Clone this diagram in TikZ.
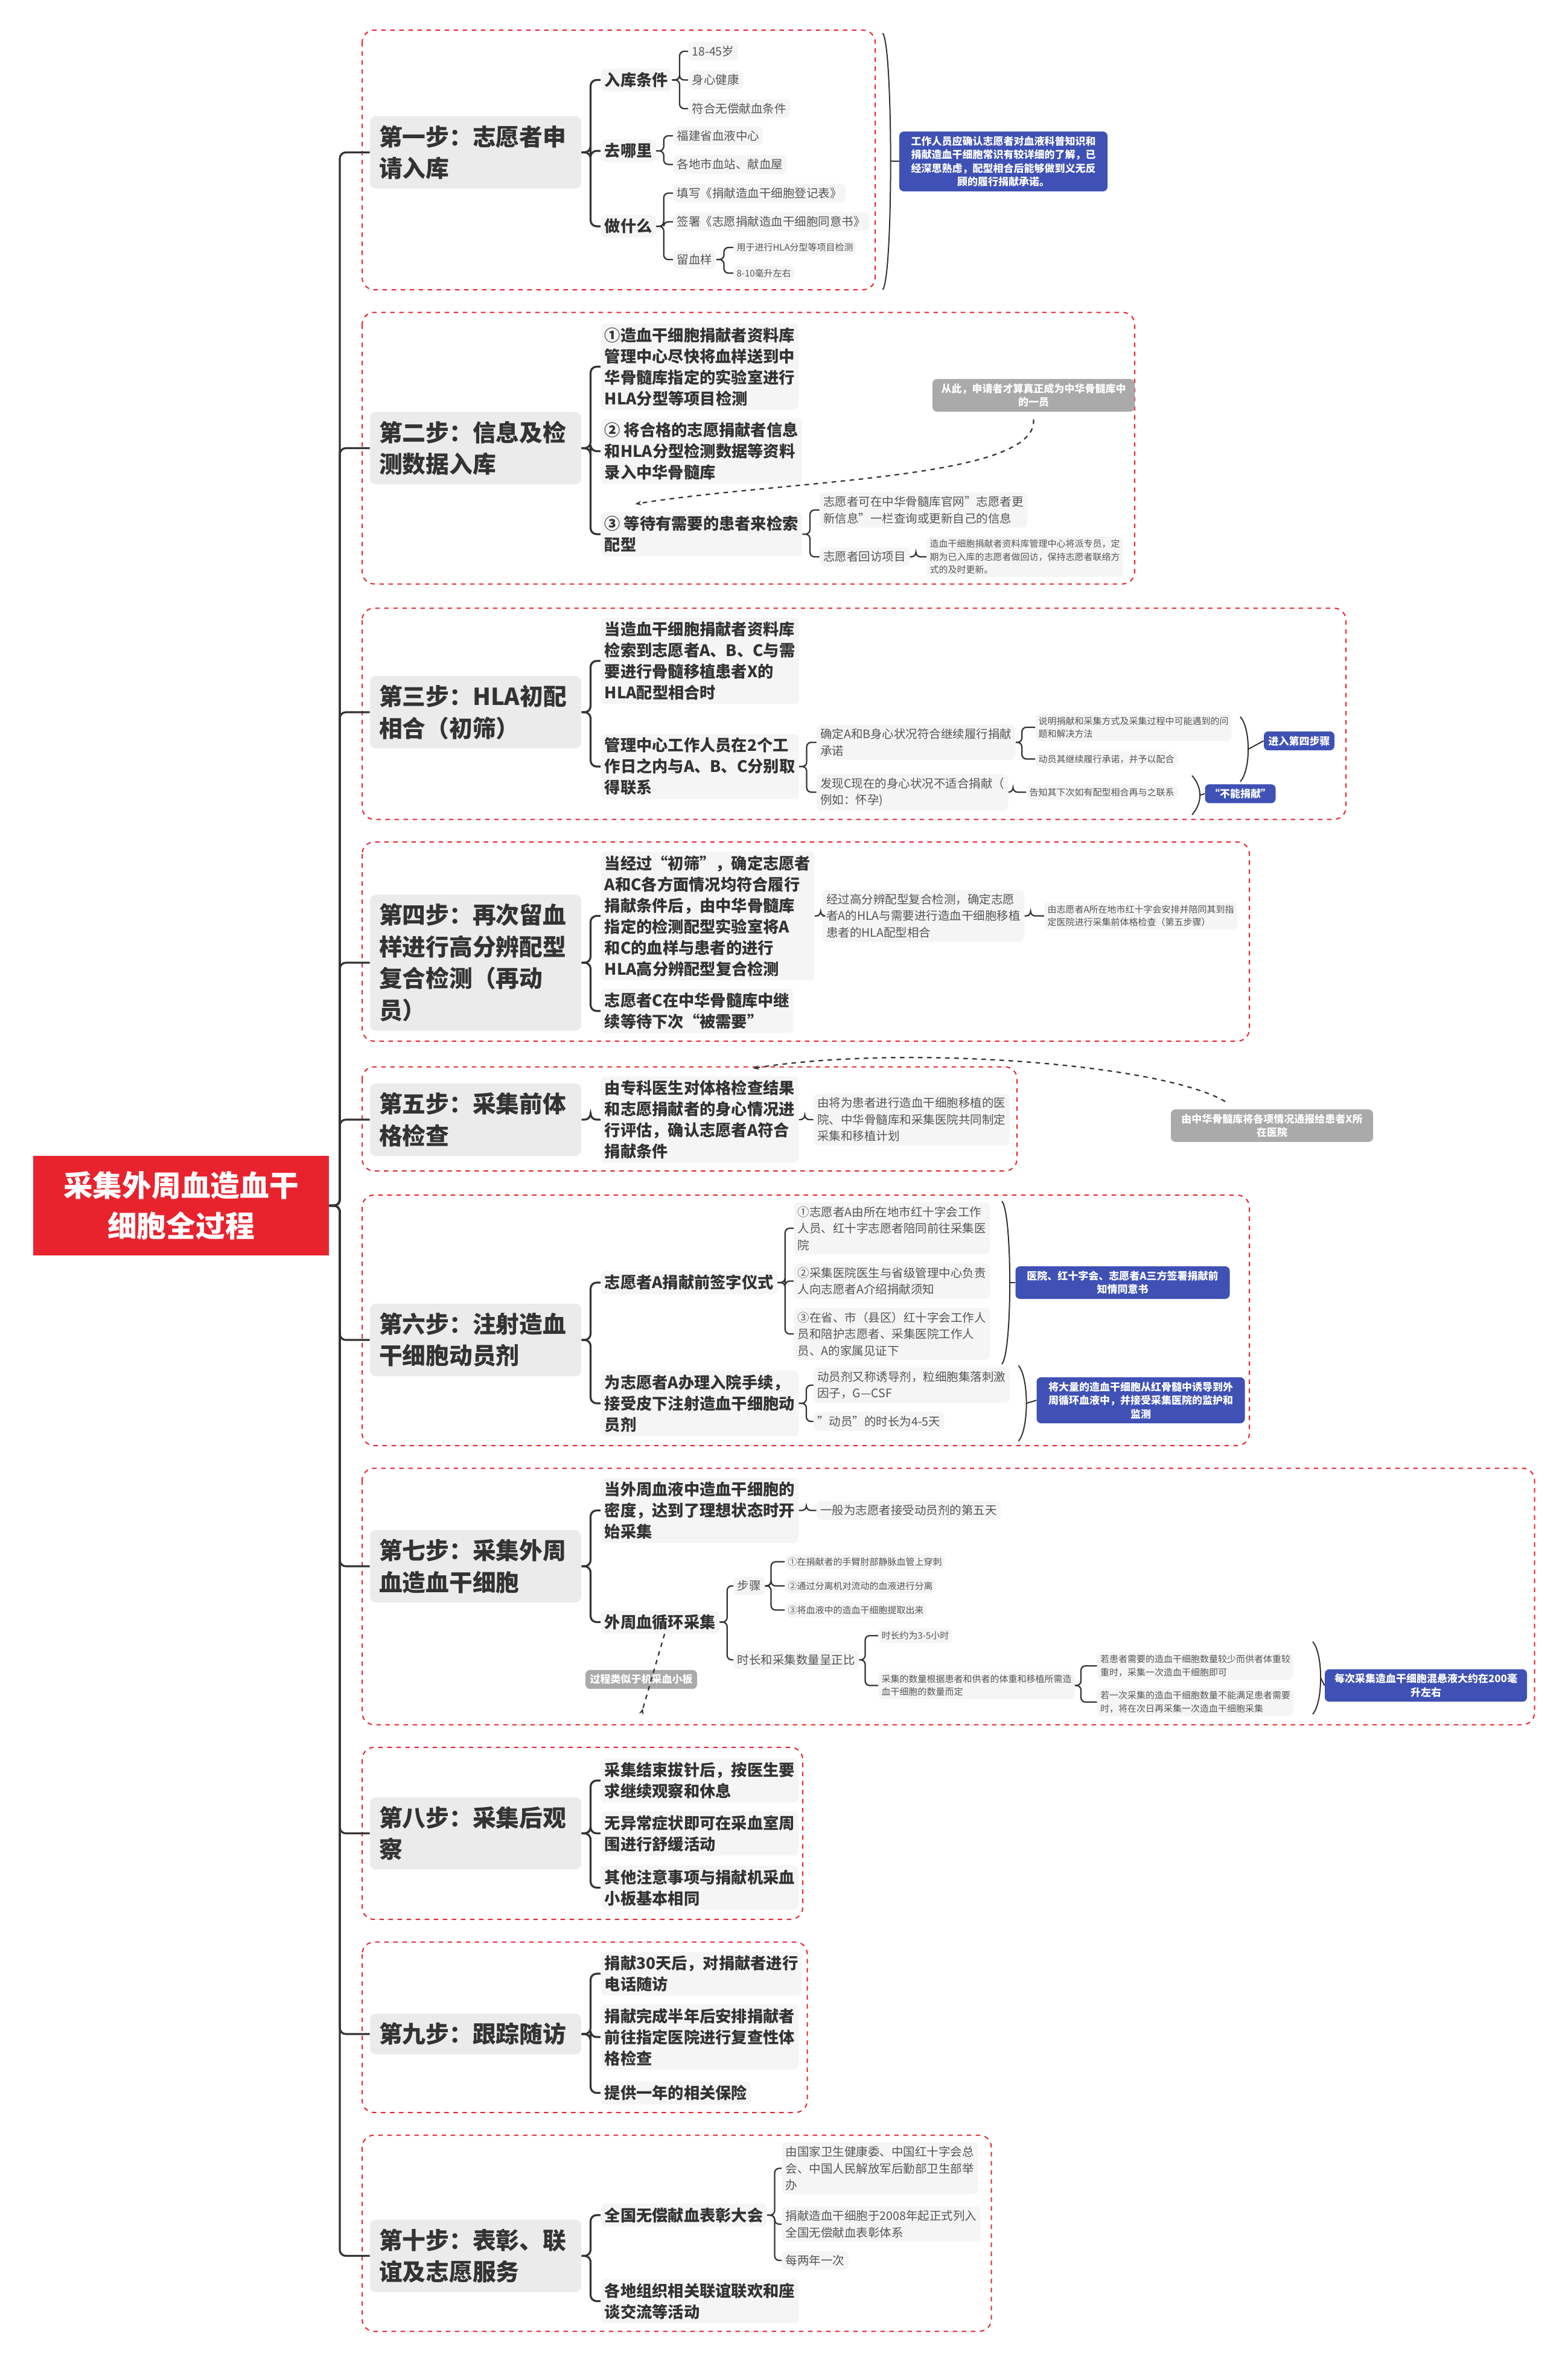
\documentclass[tikz,border=0pt]{standalone}
\usepackage{fontspec}
\setmainfont{Noto Sans CJK SC}
\usetikzlibrary{arrows.meta}
\definecolor{txt}{HTML}{333333}
\definecolor{lt}{HTML}{555555}
\definecolor{bg}{HTML}{F5F5F5}
\definecolor{stepbg}{HTML}{EBEBEB}
\definecolor{bl}{HTML}{3F51B5}
\definecolor{gr}{HTML}{AAAAAA}
\definecolor{rd}{HTML}{E8232E}
\tikzset{
 stepbox/.style={fill=stepbg,rounded corners=4pt,anchor=west,text width=128pt,align=left,inner sep=6pt,text=txt,font=\fontsize{15.5}{21}\selectfont\bfseries},
 mid/.style={fill=bg,rounded corners=3pt,anchor=west,align=left,inner sep=2.5pt,text=txt,font=\fontsize{10.5}{14}\selectfont\bfseries},
 leaf/.style={fill=bg,rounded corners=3pt,anchor=west,align=left,inner sep=2.5pt,text=lt,font=\fontsize{7.8}{11}\selectfont},
 tiny/.style={fill=bg,rounded corners=3pt,anchor=west,align=left,inner sep=2pt,text=lt,font=\fontsize{6}{8.5}\selectfont},
 bluebox/.style={fill=bl,rounded corners=3pt,align=center,inner sep=3pt,text=white,font=\fontsize{6.8}{9}\selectfont\bfseries},
 graybox/.style={fill=gr,rounded corners=3pt,align=center,inner sep=3pt,text=white,font=\fontsize{6.8}{9}\selectfont\bfseries},
 frame/.style={draw=rd,dashed,thick,rounded corners=8pt},
 conn/.style={draw=txt,line width=1.3pt,rounded corners=4pt},
 sconn/.style={draw=txt,line width=0.9pt,rounded corners=3pt},
 brc/.style={draw=txt,line width=0.8pt},
 dline/.style={draw=txt,dashed,line width=0.9pt,-{Stealth[length=4pt]}}
}
\newcommand{\lnk}[3]{\draw[conn] (#1.east) -- ++(#3,0) |- (#2.west);}
\newcommand{\slnk}[3]{\draw[sconn] (#1.east) -- ++(#3,0) |- (#2.west);}
\newcommand{\mybrc}[4]{%
 \draw[brc] (#1,#2) .. controls (#1+7,#2+8) and (#1+7,#3-8) .. (#1,#3);
 \draw[brc] (#1+5.3,{(#2+#3)/2}) -- (#4.west);}
\begin{document}
\begin{tikzpicture}[x=1pt,y=-1pt]
\fill[white] (0,0) rectangle (1039,1568);
\useasboundingbox (0,0) rectangle (1039,1568);
% frames
\draw[frame] (240,20) rectangle (580,192);
\draw[frame] (240,207) rectangle (752,387);
\draw[frame] (240,403) rectangle (892,543);
\draw[frame] (240,558) rectangle (828,690);
\draw[frame] (240,707) rectangle (674,776);
\draw[frame] (240,792) rectangle (828,958);
\draw[frame] (240,973) rectangle (1017,1143);
\draw[frame] (240,1158) rectangle (532,1272);
\draw[frame] (240,1287) rectangle (535,1400);
\draw[frame] (240,1415) rectangle (657,1545);
% root
\node[fill=rd,text=white,minimum width=196pt,minimum height=66pt,align=center,font=\fontsize{19.5}{27}\selectfont\bfseries] (root) at (120,799) {采集外周血造血干\\细胞全过程};
% steps
\node[stepbox] (s1) at (245,101) {第一步：志愿者申\\请入库};
\node[stepbox] (s2) at (245,297) {第二步：信息及检\\测数据入库};
\node[stepbox] (s3) at (245,472) {第三步：HLA初配\\相合（初筛）};
\node[stepbox] (s4) at (245,638) {第四步：再次留血\\样进行高分辨配型\\复合检测（再动\\员）};
\node[stepbox] (s5) at (245,742) {第五步：采集前体\\格检查};
\node[stepbox] (s6) at (245,888) {第六步：注射造血\\干细胞动员剂};
\node[stepbox] (s7) at (245,1038) {第七步：采集外周\\血造血干细胞};
\node[stepbox] (s8) at (245,1215) {第八步：采集后观\\察};
\node[stepbox] (s9) at (245,1348) {第九步：跟踪随访};
\node[stepbox] (s10) at (245,1495) {第十步：表彰、联\\谊及志愿服务};
\foreach \s in {s1,s2,s3,s4,s5,s6,s7,s8,s9,s10} {\lnk{root}{\s}{7}}
% ---------- step 1
\node[mid] (a1) at (398,53) {入库条件};
\node[mid] (a2) at (398,100) {去哪里};
\node[mid] (a3) at (398,150) {做什么};
\foreach \c in {a1,a2,a3} {\lnk{s1}{\c}{6}}
\node[leaf] (a11) at (456,34) {18-45岁};
\node[leaf] (a12) at (456,53) {身心健康};
\node[leaf] (a13) at (456,72) {符合无偿献血条件};
\foreach \c in {a11,a12,a13} {\slnk{a1}{\c}{5}}
\node[leaf] (a21) at (446,90) {福建省血液中心};
\node[leaf] (a22) at (446,109) {各地市血站、献血屋};
\foreach \c in {a21,a22} {\slnk{a2}{\c}{5}}
\node[leaf] (a31) at (446,128) {填写《捐献造血干细胞登记表》};
\node[leaf] (a32) at (446,147) {签署《志愿捐献造血干细胞同意书》};
\node[leaf] (a33) at (446,172) {留血样};
\foreach \c in {a31,a32,a33} {\slnk{a3}{\c}{5}}
\node[tiny] (a331) at (486,164) {用于进行HLA分型等项目检测};
\node[tiny] (a332) at (486,181) {8-10毫升左右};
\foreach \c in {a331,a332} {\slnk{a33}{\c}{5}}
\node[bluebox,text width=132pt] (b1) at (665,107) {工作人员应确认志愿者对血液科普知识和\\捐献造血干细胞常识有较详细的了解，已\\经深思熟虑，配型相合后能够做到义无反\\顾的履行捐献承诺。};
\mybrc{585}{22}{192}{b1}
% ---------- step 2
\node[mid] (c1) at (398,243) {①造血干细胞捐献者资料库\\管理中心尽快将血样送到中\\华骨髓库指定的实验室进行\\HLA分型等项目检测};
\node[mid] (c2) at (398,299) {② 将合格的志愿捐献者信息\\和HLA分型检测数据等资料\\录入中华骨髓库};
\node[mid] (c3) at (398,354) {③ 等待有需要的患者来检索\\配型};
\foreach \c in {c1,c2,c3} {\lnk{s2}{\c}{6}}
\node[leaf] (c31) at (543,338) {志愿者可在中华骨髓库官网"志愿者更\\新信息"一栏查询或更新自己的信息};
\node[leaf] (c32) at (543,369) {志愿者回访项目};
\foreach \c in {c31,c32} {\slnk{c3}{\c}{5}}
\node[tiny] (c321) at (614,369) {造血干细胞捐献者资料库管理中心将派专员，定\\期为已入库的志愿者做回访，保持志愿者联络方\\式的及时更新。};
\slnk{c32}{c321}{4}
\node[graybox,text width=128pt] (g2) at (685,262) {从此，申请者才算真正成为中华骨髓库中\\的一员};
\coordinate (g2e) at (421,334);
\draw[dline] ([yshift=-5pt]g2.south) .. controls (688,318) and (520,318) .. (g2e);
% ---------- step 3
\node[mid] (d1) at (398,438) {当造血干细胞捐献者资料库\\检索到志愿者A、B、C与需\\要进行骨髓移植患者X的\\HLA配型相合时};
\node[mid] (d2) at (398,508) {管理中心工作人员在2个工\\作日之内与A、B、C分别取\\得联系};
\foreach \c in {d1,d2} {\lnk{s3}{\c}{6}}
\node[leaf] (d21) at (541,492) {确定A和B身心状况符合继续履行捐献\\承诺};
\node[leaf] (d22) at (541,525) {发现C现在的身心状况不适合捐献（\\例如：怀孕)};
\foreach \c in {d21,d22} {\slnk{d2}{\c}{5}}
\node[tiny] (d211) at (686,482) {说明捐献和采集方式及采集过程中可能遇到的问\\题和解决方法};
\node[tiny] (d212) at (686,503) {动员其继续履行承诺，并予以配合};
\foreach \c in {d211,d212} {\slnk{d21}{\c}{4}}
\node[tiny] (d221) at (680,525) {告知其下次如有配型相合再与之联系};
\slnk{d22}{d221}{3}
\node[bluebox] (b3a) at (861,491) {进入第四步骤};
\node[bluebox] (b3b) at (822,526) {“不能捐献”};
\mybrc{822}{475}{518}{b3a}
\mybrc{790}{514}{540}{b3b}
% ---------- step 4
\node[mid] (e1) at (398,607) {当经过“初筛”，确定志愿者\\A和C各方面情况均符合履行\\捐献条件后，由中华骨髓库\\指定的检测配型实验室将A\\和C的血样与患者的进行\\HLA高分辨配型复合检测};
\node[mid] (e2) at (398,670) {志愿者C在中华骨髓库中继\\续等待下次“被需要”};
\foreach \c in {e1,e2} {\lnk{s4}{\c}{6}}
\node[leaf] (e11) at (545,607) {经过高分辨配型复合检测，确定志愿\\者A的HLA与需要进行造血干细胞移植\\患者的HLA配型相合};
\slnk{e1}{e11}{4}
\node[tiny] (e111) at (692,607) {由志愿者A所在地市红十字会安排并陪同其到指\\定医院进行采集前体格检查（第五步骤）};
\slnk{e11}{e111}{4}
% ---------- step 5
\node[mid] (f1) at (398,742) {由专科医生对体格检查结果\\和志愿捐献者的身心情况进\\行评估，确认志愿者A符合\\捐献条件};
\lnk{s5}{f1}{6}
\node[leaf] (f11) at (539,742) {由将为患者进行造血干细胞移植的医\\院、中华骨髓库和采集医院共同制定\\采集和移植计划};
\slnk{f1}{f11}{4}
\node[graybox,text width=128pt] (g5) at (843,746) {由中华骨髓库将各项情况通报给患者X所\\在医院};
\coordinate (g5e) at (499,708);
\draw[dline] (812,730) .. controls (770,705) and (600,692) .. (g5e);
% ---------- step 6
\node[mid] (h1) at (398,850) {志愿者A捐献前签字仪式};
\node[mid] (h2) at (398,930) {为志愿者A办理入院手续，\\接受皮下注射造血干细胞动\\员剂};
\foreach \c in {h1,h2} {\lnk{s6}{\c}{6}}
\node[leaf] (h11) at (526,814) {①志愿者A由所在地市红十字会工作\\人员、红十字志愿者陪同前往采集医\\院};
\node[leaf] (h12) at (526,849) {②采集医院医生与省级管理中心负责\\人向志愿者A介绍捐献须知};
\node[leaf] (h13) at (526,884) {③在省、市（县区）红十字会工作人\\员和陪护志愿者、采集医院工作人\\员、A的家属见证下};
\foreach \c in {h11,h12,h13} {\slnk{h1}{\c}{5}}
\node[bluebox,text width=136pt] (b6a) at (744,850) {医院、红十字会、志愿者A三方签署捐献前\\知情同意书};
\mybrc{664}{796}{904}{b6a}
\node[leaf] (h21) at (539,918) {动员剂又称诱导剂，粒细胞集落刺激\\因子，G—CSF};
\node[leaf] (h22) at (539,942) {"动员"的时长为4-5天};
\foreach \c in {h21,h22} {\slnk{h2}{\c}{5}}
\node[bluebox,text width=132pt] (b6b) at (756,928) {将大量的造血干细胞从红骨髓中诱导到外\\周循环血液中，并接受采集医院的监护和\\监测};
\mybrc{675}{905}{955}{b6b}
% ---------- step 7
\node[mid] (k1) at (398,1001) {当外周血液中造血干细胞的\\密度，达到了理想状态时开\\始采集};
\node[mid] (k2) at (398,1075) {外周血循环采集};
\foreach \c in {k1,k2} {\lnk{s7}{\c}{6}}
\node[leaf] (k11) at (541,1001) {一般为志愿者接受动员剂的第五天};
\slnk{k1}{k11}{5}
\node[leaf] (k21) at (486,1051) {步骤};
\node[leaf] (k22) at (486,1100) {时长和采集数量呈正比};
\foreach \c in {k21,k22} {\slnk{k2}{\c}{5}}
\node[tiny] (k211) at (520,1035) {①在捐献者的手臂肘部静脉血管上穿刺};
\node[tiny] (k212) at (520,1051) {②通过分离机对流动的血液进行分离};
\node[tiny] (k213) at (520,1067) {③将血液中的造血干细胞提取出来};
\foreach \c in {k211,k212,k213} {\slnk{k21}{\c}{4}}
\node[tiny] (k221) at (582,1084) {时长约为3-5小时};
\node[tiny] (k222) at (582,1117) {采集的数量根据患者和供者的体重和移植所需造\\血干细胞的数量而定};
\foreach \c in {k221,k222} {\slnk{k22}{\c}{4}}
\node[tiny] (k2221) at (727,1104) {若患者需要的造血干细胞数量较少而供者体重较\\重时，采集一次造血干细胞即可};
\node[tiny] (k2222) at (727,1128) {若一次采集的造血干细胞数量不能满足患者需要\\时，将在次日再采集一次造血干细胞采集};
\foreach \c in {k2221,k2222} {\slnk{k222}{\c}{4}}
\node[bluebox,text width=128pt] (b7) at (945,1117) {每次采集造血干细胞混悬液大约在200毫\\升左右};
\mybrc{870}{1088}{1136}{b7}
\node[graybox] (g7) at (425,1113) {过程类似于机采血小板};
\coordinate (g7e) at (425,1136);
\draw[dline,-{Stealth[length=4pt,reversed]}] ([xshift=3pt]k2.south) -- (g7e);
% ---------- step 8
\node[mid] (m1) at (398,1180) {采集结束拔针后，按医生要\\求继续观察和休息};
\node[mid] (m2) at (398,1215) {无异常症状即可在采血室周\\围进行舒缓活动};
\node[mid] (m3) at (398,1251) {其他注意事项与捐献机采血\\小板基本相同};
\foreach \c in {m1,m2,m3} {\lnk{s8}{\c}{6}}
% ---------- step 9
\node[mid] (n1) at (398,1308) {捐献30天后，对捐献者进行\\电话随访};
\node[mid] (n2) at (398,1350) {捐献完成半年后安排捐献者\\前往指定医院进行复查性体\\格检查};
\node[mid] (n3) at (398,1387) {提供一年的相关保险};
\foreach \c in {n1,n2,n3} {\lnk{s9}{\c}{6}}
% ---------- step 10
\node[mid] (p1) at (398,1468) {全国无偿献血表彰大会};
\node[mid] (p2) at (398,1525) {各地组织相关联谊联欢和座\\谈交流等活动};
\foreach \c in {p1,p2} {\lnk{s10}{\c}{6}}
\node[leaf] (p11) at (518,1437) {由国家卫生健康委、中国红十字会总\\会、中国人民解放军后勤部卫生部举\\办};
\node[leaf] (p12) at (518,1474) {捐献造血干细胞于2008年起正式列入\\全国无偿献血表彰体系};
\node[leaf] (p13) at (518,1498) {每两年一次};
\foreach \c in {p11,p12,p13} {\slnk{p1}{\c}{5}}
\end{tikzpicture}
\end{document}
